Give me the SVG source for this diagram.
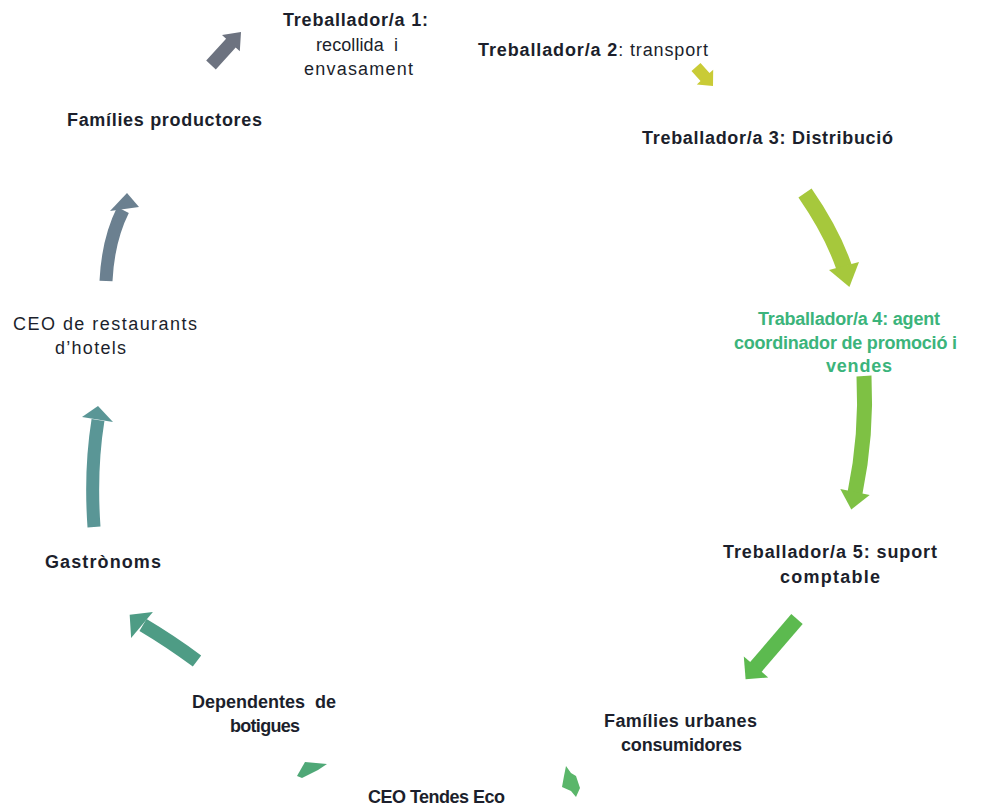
<svg xmlns="http://www.w3.org/2000/svg" width="990" height="811" viewBox="0 0 990 811">
<style>
text{font-family:"Liberation Sans",Arial,sans-serif;font-size:18px;fill:#1c1f2c}
.b{font-weight:bold}
.g{fill:#3bb47b}
.sh{fill:none;stroke-linecap:butt}
</style>
<rect width="990" height="811" fill="#ffffff"/>
<g id="connectors">
  <g id="a1"><polygon points="206.2,60.6 226.1,38.7 222,35 241,32 239.8,51.2 235.7,47.5 215.8,69.4" fill="#6d7380"/></g>
  <g id="a2"><polygon points="700.5,63 709.5,73.1 713.2,69.8 713,86 696.8,84.4 700.5,81.1 691.5,71" fill="#c9cb36"/></g>
  <g id="a3"><path class="sh" d="M805,193 Q832,232 844,267" stroke="#a6c83c" stroke-width="16"/><polygon points="859,262 849.4,287 829,270" fill="#a6c83c"/></g>
  <g id="a4"><path class="sh" d="M864,376 Q867,435 855,493" stroke="#7ec144" stroke-width="15"/><polygon points="869.7,495.1 851.3,509.6 840.3,488.9" fill="#7ec144"/></g>
  <g id="a5"><path class="sh" d="M797,619 L755,668" stroke="#5cba4f" stroke-width="15"/><polygon points="768.2,677.4 745.6,679.2 743.8,656.6" fill="#5cba4f"/></g>
  <g id="a6"><polygon points="566,766 571,773 576,776 580,788 576,797 571,791 562,787 564,776" fill="#5ab66a"/></g>
  <g id="a7"><polygon points="305,762 327,764 318,770 302,778 297,776" fill="#4fa877"/></g>
  <g id="a8"><path class="sh" d="M197,661 Q170,641 143,625" stroke="#4e9c85" stroke-width="14"/><polygon points="152.9,611.9 129.7,614.8 131.1,638.1" fill="#4e9c85"/></g>
  <g id="a9"><path class="sh" d="M94,527 Q90,470 98,420" stroke="#5a9696" stroke-width="13"/><polygon points="82,417 98,406 113,422" fill="#5a9696"/></g>
  <g id="a10"><path class="sh" d="M106,281 Q108,240 123,210" stroke="#6b8090" stroke-width="13"/><polygon points="110,211 127,193 139,207" fill="#6b8090"/></g>
</g>
<g id="node-t1">
  <text class="b" x="283" y="26" textLength="145" lengthAdjust="spacing">Treballador/a 1:</text>
  <text x="316" y="51" textLength="82" lengthAdjust="spacing" xml:space="preserve">recollida  i</text>
  <text x="304" y="75" textLength="109" lengthAdjust="spacing">envasament</text>
</g>
<g id="node-t2">
  <text x="478" y="56" textLength="230" lengthAdjust="spacing"><tspan class="b">Treballador/a 2</tspan>: transport</text>
</g>
<g id="node-t3">
  <text class="b" x="642" y="144" textLength="251" lengthAdjust="spacing">Treballador/a 3: Distribució</text>
</g>
<g id="node-t4">
  <text class="b g" x="758" y="325" textLength="182" lengthAdjust="spacing">Traballador/a 4: agent</text>
  <text class="b g" x="734" y="349" textLength="223" lengthAdjust="spacing">coordinador de promoció i</text>
  <text class="b g" x="826" y="372" textLength="66" lengthAdjust="spacing">vendes</text>
</g>
<g id="node-t5">
  <text class="b" x="723" y="558" textLength="214" lengthAdjust="spacing">Treballador/a 5: suport</text>
  <text class="b" x="780" y="583" textLength="100" lengthAdjust="spacing">comptable</text>
</g>
<g id="node-families-urbanes">
  <text class="b" x="604" y="727" textLength="153" lengthAdjust="spacing">Famílies urbanes</text>
  <text class="b" x="621" y="751" textLength="121" lengthAdjust="spacing">consumidores</text>
</g>
<g id="node-ceo-tendes">
  <text class="b" x="368" y="803" textLength="137" lengthAdjust="spacing">CEO Tendes Eco</text>
</g>
<g id="node-dependentes">
  <text class="b" x="192" y="708" textLength="144" lengthAdjust="spacing" xml:space="preserve">Dependentes  de</text>
  <text class="b" x="230" y="732" textLength="70" lengthAdjust="spacing">botigues</text>
</g>
<g id="node-gastronoms">
  <text class="b" x="45" y="568" textLength="116" lengthAdjust="spacing">Gastrònoms</text>
</g>
<g id="node-ceo-restaurants">
  <text x="13" y="330" textLength="184" lengthAdjust="spacing">CEO de restaurants</text>
  <text x="55" y="354" textLength="71" lengthAdjust="spacing">d’hotels</text>
</g>
<g id="node-families-productores">
  <text class="b" x="67" y="126" textLength="195" lengthAdjust="spacing">Famílies productores</text>
</g>
</svg>
